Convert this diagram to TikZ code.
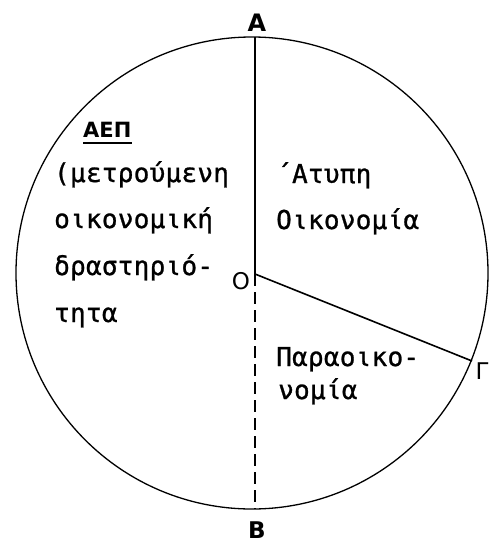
\documentclass[tikz,border=0pt]{standalone}
\usepackage{fontspec}
\setmainfont{DejaVu Sans}
\newfontfamily\tw[LetterSpace=1,FakeBold=1]{DejaVu Sans Mono}
\newfontfamily\twb{DejaVu Sans}
\begin{document}
\begin{tikzpicture}[x=1pt,y=-1pt,
  txt/.style={anchor=base west, inner sep=0pt, font=\tw\fontsize{26}{26}\selectfont},
  ttl/.style={anchor=base west, inner sep=0pt, font=\twb\bfseries\fontsize{21}{21}\selectfont},
  lbl/.style={inner sep=0pt, font=\fontsize{23}{23}\selectfont},
  rim/.style={line width=1.3pt},
  radius line/.style={line width=1.6pt}]
\useasboundingbox (0,0) rectangle (490,544);
% circle
\draw[rim] (252,273) circle[radius=236pt];
% points
\coordinate (O) at (255,274);
\coordinate (A) at (255,37);
\coordinate (B) at (255,509);
\coordinate (G) at (472,361);
\draw[radius line] (A) -- (O);
\draw[radius line] (O) -- (G);
\draw[line width=1.4pt, dash pattern=on 12pt off 6pt] (O) -- (B);
% point labels
\node[lbl, font=\bfseries\fontsize{24}{24}\selectfont] (lA) at (257,23) {A};
\node[lbl, font=\bfseries\fontsize{23}{23}\selectfont] (lB) at (257,530) {B};
\node[lbl] (lO) at (241,281) {O};
\node[lbl] (lG) at (482,371) {Γ};
% left sector text
\node[ttl] (aep) at (83,137) {ΑΕΠ};
\draw[line width=1.4pt] ([yshift=-6pt]aep.base west) -- ([yshift=-6pt]aep.base east);
\node[txt] (l1) at (54,182) {(μετρούμενη};
\node[txt] (l2) at (54,228) {οικονομική};
\node[txt] (l3) at (54,275) {δραστηριό-};
\node[txt] (l4) at (54,322) {τητα};
% upper right sector
\node[txt] (r1) at (276,183) {΄Ατυπη};
\node[txt] (r2) at (276,229) {Οικονομία};
% lower right sector
\node[txt] (p1) at (276,366) {Παραοικο-};
\node[txt] (p2) at (278,399) {νομία};
\end{tikzpicture}
\end{document}
